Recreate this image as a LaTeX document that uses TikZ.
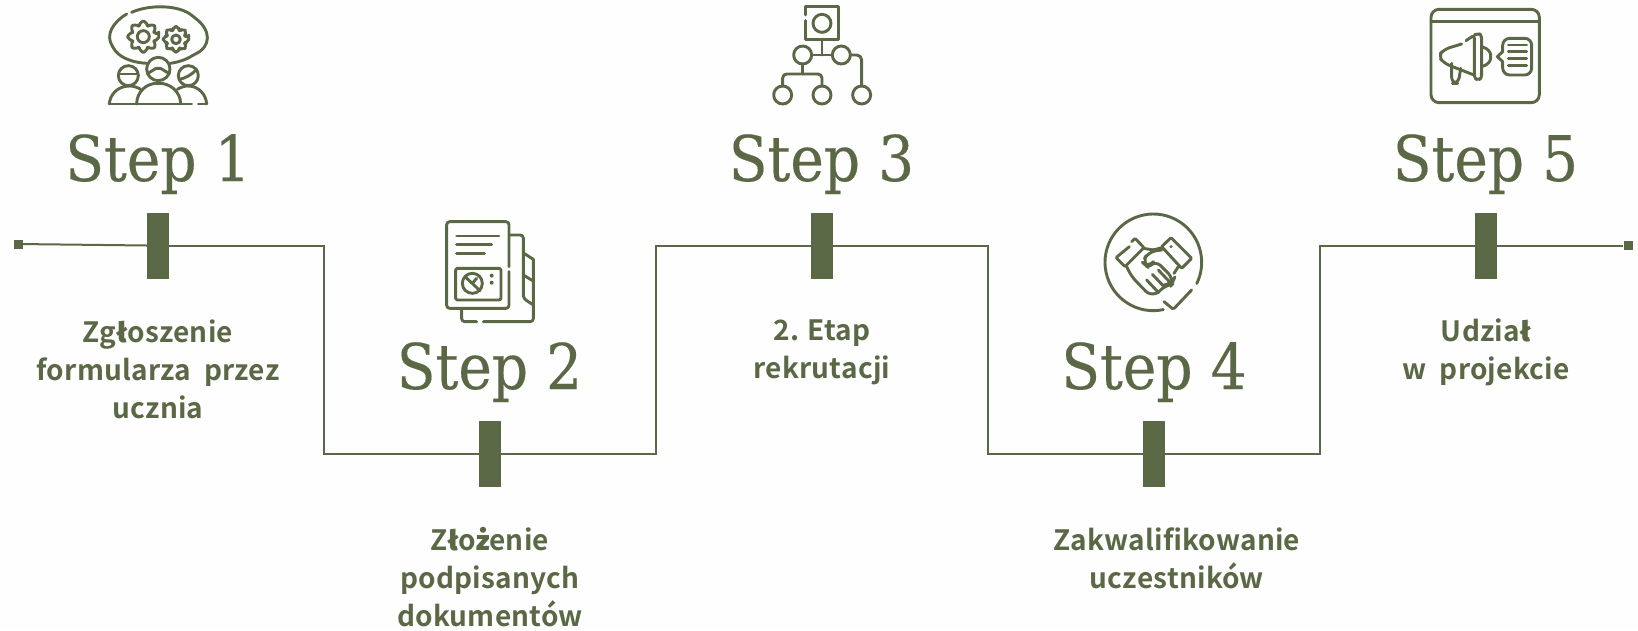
\documentclass[tikz,border=0pt]{standalone}
\usepackage{fontspec}
\newfontfamily\stepfont[FakeBold=0.25]{DejaVu Serif Condensed}
\newfontfamily\labfont[LetterSpace=0.8,BoldFont={Noto Sans CJK SC Bold}]{Noto Sans CJK SC Medium}
\newfontfamily\fbfont{Fira Sans SemiBold}
\newcommand{\lst}{{\fbfont ł}}
\newcommand{\zdot}{{\fbfont ż}}
\definecolor{ol}{HTML}{5A6845}
\definecolor{bgc}{HTML}{FEFEFE}
\tikzset{
  conn/.style={draw=ol,line width=2pt},
  barbox/.style={fill=ol,minimum width=22pt,minimum height=66pt,inner sep=0pt},
  endbox/.style={fill=ol,minimum width=9pt,minimum height=9pt,inner sep=0pt},
  steptitle/.style={text=ol,anchor=base,inner sep=0pt,font=\stepfont\fontsize{63}{64}\selectfont},
  lab/.style={text=ol,align=center,anchor=center,inner sep=0pt,font=\labfont\bfseries\fontsize{28}{38}\selectfont},
  ic/.style={draw=ol,line width=2.9pt,line cap=round,line join=round,rounded corners=1.5pt},
}
\newcommand{\gearshape}[2]{%
  \draw[ic,rounded corners=2pt] (-10:#1) \foreach \a in {0,45,...,315}{ -- (\a-10:#1) -- (\a+10:#1) -- (\a+16:#2) -- (\a+29:#2)} -- cycle;}
\begin{document}
\begin{tikzpicture}[x=1pt,y=-1pt]
\useasboundingbox[fill=bgc] (0,0) rectangle (1638,630);
% connector
\node[endbox] (s) at (18,244) {};
\node[endbox] (e) at (1628,245.5) {};
\node[barbox] (b1) at (158,246) {};
\node[barbox] (b2) at (490,454) {};
\node[barbox] (b3) at (822,246) {};
\node[barbox] (b4) at (1154,454) {};
\node[barbox] (b5) at (1486,246) {};
\coordinate (c1) at (324,245.5);
\coordinate (c2) at (324,453.5);
\coordinate (c3) at (656,453.5);
\coordinate (c4) at (656,245.5);
\coordinate (c5) at (988,245.5);
\coordinate (c6) at (988,453.5);
\coordinate (c7) at (1320,453.5);
\coordinate (c8) at (1320,245.5);
\draw[conn] (s) -- (b1.west |- c1);
\draw[conn] (b1.east |- c1) -- (c1) -- (c2) -- (b2.west |- c2);
\draw[conn] (b2.east |- c2) -- (c3) -- (c4) -- (b3.west |- c4);
\draw[conn] (b3.east |- c5) -- (c5) -- (c6) -- (b4.west |- c6);
\draw[conn] (b4.east |- c7) -- (c7) -- (c8) -- (b5.west |- c8);
\draw[conn] (b5.east |- c8) -- (e);
% titles
\node[steptitle] (t1) at (158,181) {Step 1};
\node[steptitle] (t2) at (489.5,389) {Step 2};
\node[steptitle] (t3) at (821.5,181) {Step 3};
\node[steptitle] (t4) at (1154,389) {Step 4};
\node[steptitle] (t5) at (1485.5,181) {Step 5};
% labels
\node[lab] (l1) at (158,369) {Zg\lst oszenie\\formularza\ \ przez\\ucznia};
\node[lab] (l2) at (490,577) {Z\lst o\zdot enie\\podpisanych\\dokumentów};
\node[lab] (l3) at (822,352) {2. Etap\\rekrutacji};
\node[lab] (l4) at (1177,558) {Zakwalifikowanie\\uczestników};
\node[lab] (l5) at (1486,352) {Udzia\lst\\w\ \ projekcie};
% icon 1
\begin{scope}[shift={(90,0)},x=0.3333pt,y=-0.3333pt]
  \draw[ic] (125,37) .. controls (180,12) and (270,15) .. (310,50) .. controls (365,90) and (365,140) .. (310,165) .. controls (290,178) and (265,187) .. (240,190);
  \draw[ic] (170,190) .. controls (120,187) and (85,170) .. (68,140) .. controls (48,105) and (65,70) .. (110,42);
  \begin{scope}[shift={(160,110)}]\gearshape{47}{35}\draw[ic] (0,0) circle (18);\end{scope}
  \begin{scope}[shift={(258,118)}]\gearshape{39}{29}\draw[ic] (0,0) circle (13);\end{scope}
  \draw[ic] (205,207) circle (35);
  \draw[ic] (172,220) .. controls (185,215) and (195,205) .. (205,205) .. controls (215,205) and (225,215) .. (238,220);
  \draw[ic] (115,227) circle (30);
  \draw[ic] (87,222) -- (143,222);
  \draw[ic] (295,227) circle (30);
  \draw[ic] (268,238) .. controls (285,235) and (305,225) .. (320,208);
  \draw[ic] (140,312) .. controls (140,275) and (170,250) .. (205,250) .. controls (240,250) and (272,275) .. (272,312);
  \draw[ic] (58,312) .. controls (60,285) and (80,262) .. (115,258) .. controls (130,258) and (142,262) .. (152,268);
  \draw[ic] (262,268) .. controls (272,262) and (285,258) .. (295,258) .. controls (325,260) and (348,282) .. (350,312);
  \draw[ic] (58,312) -- (305,312);
  \draw[ic] (325,312) -- (350,312);
\end{scope}
% icon 2
\begin{scope}[shift={(425,210)},x=0.3333pt,y=-0.3333pt]
  \draw[ic,rounded corners=3pt] (252,170) -- (252,35) -- (65,35) -- (65,295) -- (252,295) -- (252,185);
  \draw[ic] (95,78) -- (222,78) (95,103) -- (200,103) (95,130) -- (178,130);
  \draw[ic] (92,175) rectangle (228,270);
  \draw[ic] (142,220) circle (30);
  \draw[ic] (120,200) -- (165,242) (142,220) -- (155,205);
  \fill[ol] (200,197) circle (6) (200,218) circle (6);
  \draw[ic,rounded corners=3pt] (255,75) -- (295,75) -- (295,265) -- (322,283);
  \draw[ic] (297,130) -- (325,148) (295,195) -- (323,212);
  \draw[ic,rounded corners=3pt] (325,148) -- (325,335) -- (175,335);
  \draw[ic,rounded corners=3pt] (155,335) -- (110,335) -- (110,297);
\end{scope}
% icon 3
\begin{scope}[shift={(750,0)},x=0.3333pt,y=-0.3333pt]
  \draw[ic,rounded corners=0pt] (167,45) -- (167,20) -- (265,20) -- (265,118) -- (167,118) -- (167,62);
  \draw[ic] (216,70) circle (27);
  \draw[ic] (216,118) -- (216,165);
  \draw[ic] (158,165) circle (27) (274,165) circle (27);
  \draw[ic] (185,165) -- (247,165);
  \draw[ic,rounded corners=5pt] (301,165) -- (335,165) -- (335,258);
  \draw[ic] (335,285) circle (27) (216,285) circle (27) (98,285) circle (27);
  \draw[ic] (158,192) -- (158,222);
  \draw[ic,rounded corners=4pt] (98,258) -- (98,222) -- (216,222) -- (216,258);
\end{scope}
% icon 4
\begin{scope}[shift={(1090,205)},x=0.3333pt,y=-0.3333pt]
  \draw[ic] (190,172) ++(78:145) arc (78:386:145);
  \draw[ic] (222,290) -- (250,313) -- (305,255);
  \draw[ic,rounded corners=1pt] (118,125) -- (78,158) -- (105,185) -- (162,128) -- (135,100) -- (125,110);
  \draw[ic,rounded corners=1pt] (215,125) -- (243,98) -- (305,160) -- (275,190) -- cycle;
  \fill[ol] (243,125) circle (5);
  \draw[ic] (160,130) -- (190,135) -- (215,128);
  \draw[ic,rounded corners=6pt] (110,185) -- (125,215) -- (180,272) -- (205,262);
  \draw[ic,rounded corners=8pt] (215,135) -- (175,140) -- (157,172) -- (175,188) -- (195,165) -- (252,222) -- (245,238) -- (225,240) -- (205,262);
  \draw[ic] (265,185) -- (252,205);
  \draw[ic] (205,195) -- (240,232) (187,208) -- (222,245) (170,225) -- (205,262);
\end{scope}
% icon 5
\begin{scope}[shift={(1420,0)},x=0.3333pt,y=-0.3333pt]
  \draw[ic,rounded corners=8pt] (33,28) rectangle (358,308);
  \draw[ic] (33,65) -- (358,65);
  \draw[ic,rounded corners=6pt] (125,132) -- (72,148) -- (55,168) -- (72,190) -- (162,225);
  \draw[ic,rounded corners=3pt] (138,122) -- (163,105) -- (163,235) -- (174,240) -- (185,235) -- (185,105) -- (174,100) -- (163,105);
  \draw[ic] (185,140) .. controls (205,145) and (212,158) .. (212,170) .. controls (212,182) and (205,195) .. (185,200);
  \draw[ic,rounded corners=6pt] (95,190) -- (95,250) -- (115,250) -- (122,205);
  \draw[ic,rounded corners=7pt] (248,155) -- (248,115) -- (335,115) -- (335,225) -- (248,225) -- (248,185);
  \draw[ic,rounded corners=0pt] (248,155) -- (232,170) -- (248,185);
  \draw[ic] (265,135) -- (320,135) (265,155) -- (320,155) (265,175) -- (320,175) (265,197) -- (320,197);
\end{scope}
\end{tikzpicture}
\end{document}
